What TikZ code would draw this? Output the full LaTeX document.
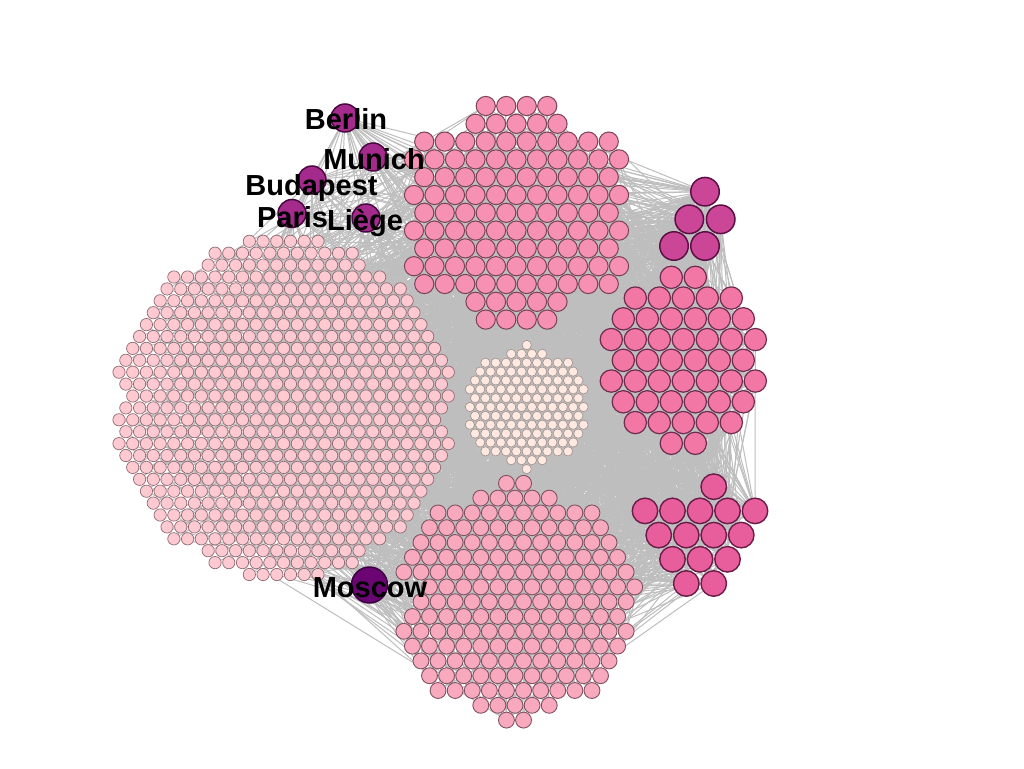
\documentclass[tikz,border=0pt]{standalone}
\usepackage{fontspec}
\setmainfont{Liberation Sans}
\pgfdeclarelayer{backlayer}
\pgfdeclarelayer{edgelayer}
\pgfsetlayers{backlayer,edgelayer,main}
\definecolor{fA}{HTML}{FFC9D1}\definecolor{bA}{HTML}{8E6B72}
\definecolor{fT}{HTML}{F791B3}\definecolor{bT}{HTML}{7A4357}
\definecolor{fC}{HTML}{FFE9E1}\definecolor{bC}{HTML}{A08F8B}
\definecolor{fD}{HTML}{F9A9BE}\definecolor{bD}{HTML}{7E5260}
\definecolor{fR}{HTML}{F277A5}\definecolor{bR}{HTML}{6E2C4E}
\definecolor{fQ}{HTML}{E85D9B}\definecolor{bQ}{HTML}{6A1C48}
\definecolor{fP}{HTML}{CC4698}\definecolor{bP}{HTML}{5C0F45}
\definecolor{fL}{HTML}{A42A8C}\definecolor{bL}{HTML}{4A0840}
\definecolor{fM}{HTML}{6B0573}\definecolor{bM}{HTML}{3A003F}
\definecolor{lnkgray}{HTML}{BEBEBE}
\tikzset{
  dot/.style={circle,inner sep=0pt},
  nA/.style={dot,minimum size=12.3pt,fill=fA,draw=bA,line width=0.7pt},
  nT/.style={dot,minimum size=19.2pt,fill=fT,draw=bT,line width=1pt},
  nC/.style={dot,minimum size=9.3pt,fill=fC,draw=bC,line width=0.6pt},
  nD/.style={dot,minimum size=15.9pt,fill=fD,draw=bD,line width=0.9pt},
  nR/.style={dot,minimum size=22.3pt,fill=fR,draw=bR,line width=1.2pt},
  nQ/.style={dot,minimum size=25.5pt,fill=fQ,draw=bQ,line width=1.4pt},
  nP/.style={dot,minimum size=28.5pt,fill=fP,draw=bP,line width=1.5pt},
  city/.style={dot,minimum size=28pt,fill=fL,draw=bL,line width=1.5pt},
  bigcity/.style={dot,minimum size=36pt,fill=fM,draw=bM,line width=1.5pt},
  lnk/.style={draw=lnkgray,line width=1pt},
  lbl/.style={inner sep=0pt,anchor=base,font=\bfseries\fontsize{29pt}{30pt}\selectfont}
}
\newcount\nodecnt
% #1 prefix, #2 style, #3 x of k=0, #4 y of first row, #5 half spacing, #6 row step, #7 rows kfrom/kto
\newcommand\hexcluster[7]{%
  \global\nodecnt=0
  \foreach \kf/\kt [count=\r from 0] in {#7}{%
    \pgfmathtruncatemacro\nn{(\kt-\kf)/2}%
    \foreach \j in {0,...,\nn}{%
      \global\advance\nodecnt by 1
      \edef\nm{#1\the\nodecnt}%
      \node[#2] (\nm) at ({#3+(\kf+2*\j)*#5},{#4+#6*\r}) {};
    }%
  }%
  \expandafter\xdef\csname N#1\endcsname{\the\nodecnt}%
}
\newcommand\linkclusters[3]{%
  \foreach \e in {1,...,#3}{%
    \pgfmathrandominteger{\ia}{1}{\csname N#1\endcsname}%
    \pgfmathrandominteger{\ib}{1}{\csname N#2\endcsname}%
    \draw[lnk] (#1\ia) -- (#2\ib);
  }%
}
\newcommand\linknode[3]{%
  \foreach \e in {1,...,#3}{%
    \pgfmathrandominteger{\ib}{1}{\csname N#2\endcsname}%
    \draw[lnk] (#1) -- (#2\ib);
  }%
}
\begin{document}
\begin{tikzpicture}[x=1pt,y=-1pt]
\begin{pgfonlayer}{backlayer}
\fill[white] (0,0) rectangle (1024,768);
\end{pgfonlayer}
\useasboundingbox (0,0) rectangle (1024,768);
\pgfmathsetseed{2024}
% big light cluster
\hexcluster{a}{nA}{119}{241.3}{6.86}{11.9}{19/29,14/34,13/35,8/38,7/41,6/42,5/43,4/44,3/45,2/46,1/47,0/48,1/47,2/48,1/47,0/46,1/47,0/48,1/47,2/46,3/45,4/44,5/43,6/42,7/41,8/38,13/35,14/34,19/29}
% top middle
\hexcluster{t}{nT}{516.5}{106}{10.25}{17.8}{-3/3,-4/4,-9/9,-10/10,-9/9,-10/10,-9/9,-10/10,-9/9,-10/10,-9/9,-4/4,-3/3}
% centre
\hexcluster{c}{nC}{526.7}{345}{5.165}{8.86}{0/0,-3/3,-8/8,-9/9,-10/10,-11/11,-10/10,-11/11,-10/10,-11/11,-10/10,-9/9,-8/8,-3/3,0/0}
% bottom middle
\hexcluster{d}{nD}{515}{483.3}{8.55}{14.8}{-1/1,-4/4,-9/9,-10/10,-11/11,-12/12,-13/13,-10/14,-11/13,-12/12,-13/13,-12/12,-11/11,-10/10,-9/9,-4/4,-1/1}
% right middle
\hexcluster{r}{nR}{683.3}{277.3}{12}{20.75}{-1/1,-4/4,-5/5,-6/6,-5/5,-6/6,-5/5,-4/4,-1/1}
% right bottom
\hexcluster{q}{nQ}{700}{486.7}{13.75}{24.2}{1/1,-4/4,-3/3,-2/2,-1/1}
% top right
\node[nP] (p1) at (705,191.7) {};
\node[nP] (p2) at (689.3,219.3) {};
\node[nP] (p3) at (720.7,219.3) {};
\node[nP] (p4) at (674,246) {};
\node[nP] (p5) at (705,246) {};
\expandafter\def\csname Np\endcsname{5}
% named nodes
\node[city] (berlin) at (345,118) {};
\node[city] (munich) at (373,157) {};
\node[city] (budapest) at (312,180) {};
\node[city] (paris) at (292,213.5) {};
\node[city] (liege) at (366,218) {};
\node[bigcity] (moscow) at (369.5,585) {};
\begin{pgfonlayer}{edgelayer}
\linkclusters{a}{t}{350}
\linkclusters{a}{c}{300}
\linkclusters{a}{d}{350}
\linkclusters{t}{c}{250}
\linkclusters{t}{d}{150}
\linkclusters{c}{d}{250}
\linkclusters{t}{r}{350}
\linkclusters{c}{r}{250}
\linkclusters{d}{r}{200}
\linkclusters{r}{q}{120}
\linkclusters{c}{q}{120}
\linkclusters{d}{q}{120}
\linkclusters{t}{q}{80}
\linkclusters{p}{r}{90}
\linkclusters{p}{t}{120}
\linkclusters{p}{q}{30}
\linkclusters{p}{c}{40}
\linkclusters{p}{d}{30}
\linkclusters{a}{r}{150}
\linkclusters{a}{q}{80}
\linkclusters{a}{p}{30}
\linknode{berlin}{t}{10}\linknode{berlin}{a}{6}\linknode{berlin}{c}{4}\linknode{berlin}{d}{2}
\linknode{munich}{t}{12}\linknode{munich}{a}{5}\linknode{munich}{c}{4}\linknode{munich}{d}{2}
\linknode{budapest}{t}{8}\linknode{budapest}{a}{8}\linknode{budapest}{c}{3}\linknode{budapest}{d}{2}
\linknode{paris}{t}{6}\linknode{paris}{a}{10}\linknode{paris}{c}{3}\linknode{paris}{d}{2}
\linknode{liege}{t}{8}\linknode{liege}{a}{8}\linknode{liege}{c}{4}\linknode{liege}{d}{3}
\linknode{berlin}{r}{2}\linknode{munich}{r}{2}\linknode{liege}{r}{2}
\draw[lnk] (berlin) -- (munich);
\draw[lnk] (berlin) -- (budapest);
\draw[lnk] (berlin) -- (paris);
\draw[lnk] (berlin) -- (liege);
\draw[lnk] (munich) -- (budapest);
\draw[lnk] (munich) -- (paris);
\draw[lnk] (munich) -- (liege);
\draw[lnk] (budapest) -- (paris);
\draw[lnk] (budapest) -- (liege);
\draw[lnk] (paris) -- (liege);
\linknode{moscow}{a}{15}\linknode{moscow}{d}{25}\linknode{moscow}{c}{6}\linknode{moscow}{t}{4}\linknode{moscow}{r}{3}
\end{pgfonlayer}
% labels
\node[lbl] (tberlin) at (346,129) {Berlin};
\node[lbl] (tmunich) at (374,169.3) {Munich};
\node[lbl] (tbudapest) at (311.5,195) {Budapest};
\node[lbl] (tparis) at (292.5,227.3) {Paris};
\node[lbl] (tliege) at (365,230) {Liège};
\node[lbl] (tmoscow) at (370,597.3) {Moscow};
\end{tikzpicture}
\end{document}
